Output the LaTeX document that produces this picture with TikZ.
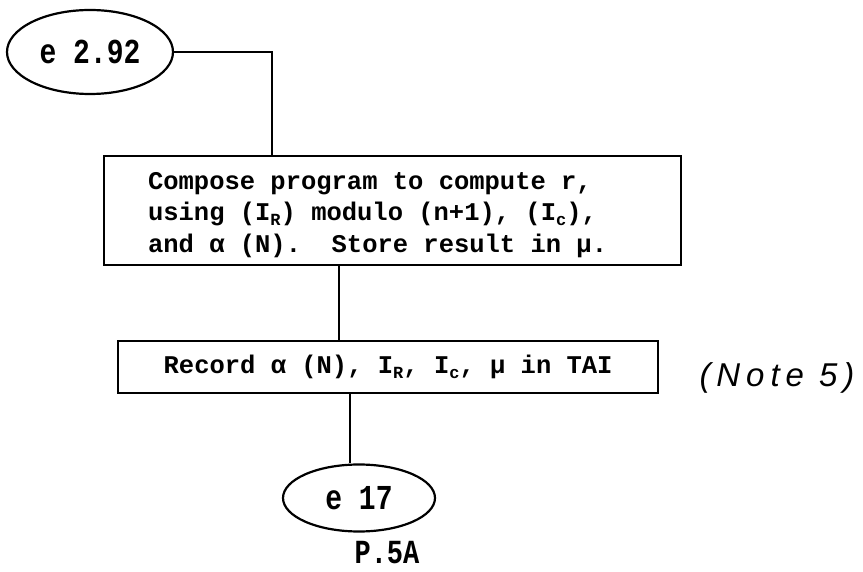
\documentclass[tikz,border=0pt]{standalone}
\usepackage{fontspec}
\usepackage{graphicx}
\setmonofont{Liberation Mono}
\newfontfamily\handfont[LetterSpace=18]{Liberation Sans}
\usetikzlibrary{shapes.geometric}
\newcommand{\lowsub}[1]{\raisebox{-0.35ex}{\fontsize{17}{17}\selectfont #1}}
\newcommand{\talltext}[1]{\scalebox{1}[1.25]{#1}}
\begin{document}
\begin{tikzpicture}[x=1pt, y=-1pt,
	flow/.style={line width=2.2pt},
	oval/.style={draw, line width=2.2pt, ellipse, inner sep=0pt, font=\ttfamily\bfseries\fontsize{28}{28}\selectfont},
	stepbox/.style={draw, line width=2.2pt, anchor=north west, inner sep=0pt, font=\ttfamily\bfseries\fontsize{25.5}{31.5}\selectfont}]
			\useasboundingbox (0,0) rectangle (863,572);
			% Các nút chính
			\node[oval, minimum width=166, minimum height=84] (e292) at (90,52) {\talltext{e 2.92}};
			\node[stepbox, minimum width=577, minimum height=109] (compose) at (103,155)
				{\begin{tabular}{@{}l@{\hspace{30pt}}}
				 \rule{0pt}{30pt}Compose program to compute r,\\
				 using (I\lowsub{R}) modulo (n+1), (I\lowsub{c}),\\
				 and α (N).~ Store result in μ.
				 \end{tabular}};
			\node[stepbox, minimum width=540, minimum height=52] (record) at (117,340)
				{Record α (N), I\lowsub{R}, I\lowsub{c}, μ in TAI};
			\node[oval, minimum width=152, minimum height=67] (e17) at (359,498) {\talltext{e 17}};
			% Ghi chú
			\node (note) at (777,378) {\handfont\itshape\fontsize{33}{33}\selectfont (Note 5)};
			\node (page) at (387,553) {\ttfamily\bfseries\fontsize{27}{27}\selectfont\talltext{P.5A}};
			% Các đường nối
			\coordinate (elbow) at (272,52);
			\coordinate (trunkA) at (339,0);
			\coordinate (trunkB) at (350,0);
			\draw[flow] (e292.east) -- (elbow) -- (elbow |- compose.north);
			\draw[flow] (compose.south -| trunkA) -- (record.north -| trunkA);
			\draw[flow] (record.south -| trunkB) -- (e17.north -| trunkB);
		\end{tikzpicture}
\end{document}
